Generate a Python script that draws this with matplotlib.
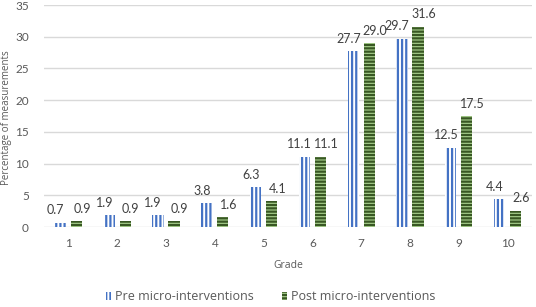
import numpy as np
import matplotlib.pyplot as plt

plt.rcParams['hatch.linewidth'] = 1.6

grades = ["1", "2", "3", "4", "5", "6", "7", "8", "9", "10"]
pre = [0.7, 1.9, 1.9, 3.8, 6.3, 11.1, 27.7, 29.7, 12.5, 4.4]
post = [0.9, 0.9, 0.9, 1.6, 4.1, 11.1, 29.0, 31.6, 17.5, 2.6]

gris = "#595959"
x = np.arange(len(grades))
w = 0.23
dx = 0.165

fig = plt.figure(figsize=(5.36, 3.07), dpi=100)
ax = fig.add_axes([44/536, (307-227)/307, 488/536, 222/307])

b1 = ax.bar(x - dx, pre, w, color="white", edgecolor="#4472C4",
            hatch="||||", linewidth=0, label="Pre micro-interventions", zorder=3)
b2 = ax.bar(x + dx, post, w, color="#A9D18E", edgecolor="#385723",
            hatch="-----", linewidth=0, label="Post micro-interventions", zorder=3)
# couleur des hachures
for b in b1:
    b._hatch_color = (0x44/255, 0x72/255, 0xC4/255, 1)
for b in b2:
    b._hatch_color = (0x38/255, 0x57/255, 0x23/255, 1)

# étiquettes de valeurs, décalées vers l'extérieur comme dans l'original
for xi, v in zip(x - dx, pre):
    ax.annotate(f"{v:.1f}", (xi, v), xytext=(-3.5, 6), textcoords="offset points",
                ha="center", va="baseline", fontsize=9, color="#404040", family="Lato")
for xi, v in zip(x + dx, post):
    ax.annotate(f"{v:.1f}", (xi, v), xytext=(4, 6), textcoords="offset points",
                ha="center", va="baseline", fontsize=9, color="#404040", family="Lato")

ax.set_xlim(-0.5, 9.5)
ax.set_ylim(0, 35)
ax.set_yticks(range(0, 36, 5))
ax.set_xticks(x)
ax.set_xticklabels(grades)
ax.tick_params(axis="y", length=0, labelsize=8.5, colors=gris, pad=11)
ax.tick_params(axis="x", length=0, labelsize=8.5, colors=gris, pad=8)
for lab in ax.get_xticklabels() + ax.get_yticklabels():
    lab.set_family("Lato")
ax.grid(axis="y", color="#D9D9D9", linewidth=1, zorder=0)
for s in ax.spines.values():
    s.set_visible(False)

ax.set_xlabel("Grade", fontsize=7.5, color=gris, family="Open Sans", labelpad=8)
fig.text(7/536, (307-118)/307, "Percentage of measurements", rotation=90,
         ha="center", va="center", fontsize=7, color=gris, family="Open Sans")

fig.legend(handles=[b1, b2], loc="center", bbox_to_anchor=(0.505, 0.033), ncol=2,
           frameon=False, handlelength=0.4, handleheight=0.7,
           columnspacing=2.3, handletextpad=0.3,
           prop={"family": "Open Sans", "size": 9}, labelcolor=gris)

fig.savefig("out.png", dpi=100)
